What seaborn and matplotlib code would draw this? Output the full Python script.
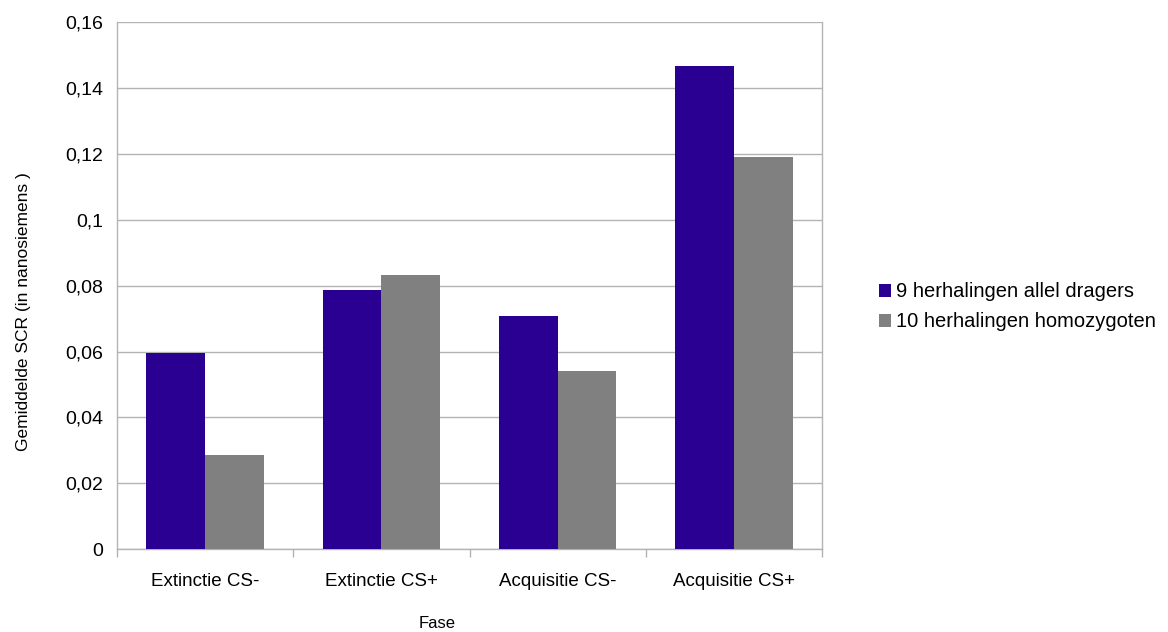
import matplotlib
matplotlib.use("Agg")
import matplotlib.pyplot as plt
import seaborn as sns
import pandas as pd

categories = ["Extinctie CS-", "Extinctie CS+", "Acquisitie CS-", "Acquisitie CS+"]
series_names = ["9 herhalingen allel dragers", "10 herhalingen homozygoten"]
values_allel = [0.0595, 0.0786, 0.0707, 0.1466]
values_homo = [0.0287, 0.0832, 0.0542, 0.1190]
y_ticks = [0, 0.02, 0.04, 0.06, 0.08, 0.10, 0.12, 0.14, 0.16]
y_tick_labels = ["0", "0,02", "0,04", "0,06", "0,08", "0,1", "0,12", "0,14", "0,16"]

df = pd.DataFrame({
    "Fase": categories * 2,
    "SCR": values_allel + values_homo,
    "Groep": [series_names[0]] * 4 + [series_names[1]] * 4,
})

sns.set_theme(style="white")
plt.rcParams["font.family"] = ["Liberation Sans", "DejaVu Sans"]

fig = plt.figure(figsize=(11.68, 6.32), dpi=100)
ax = fig.add_axes([0.100, 0.131, 0.604, 0.834])

palette = {series_names[0]: "#2a0092", series_names[1]: "#808080"}
sns.barplot(data=df, x="Fase", y="SCR", hue="Groep", order=categories,
            hue_order=series_names, palette=palette, width=0.665,
            saturation=1, ax=ax, zorder=3, linewidth=0)

ax.set_ylim(0, 0.16)
ax.set_xlim(-0.5, 3.5)
ax.set_yticks(y_ticks)
ax.set_yticklabels(y_tick_labels, fontsize=14, color="#000000")
ax.yaxis.grid(True, color="#b3b3b3", linewidth=1, zorder=0)
ax.set_axisbelow(True)

ax.set_xticks(range(len(categories)))
ax.set_xticklabels(categories, fontsize=13.5, color="#000000")
ax.set_xticks([-0.5, 0.5, 1.5, 2.5, 3.5], minor=True)
ax.tick_params(axis="x", which="major", length=0, pad=17)
ax.tick_params(axis="x", which="minor", length=6, width=1, color="#b3b3b3", direction="out")
ax.tick_params(axis="y", which="major", length=6, width=1, color="#b3b3b3", direction="out", pad=4)
ax.tick_params(axis="x", which="minor", bottom=True)

for side in ["left", "bottom", "right"]:
    ax.spines[side].set_visible(True)
    ax.spines[side].set_color("#b3b3b3")
    ax.spines[side].set_linewidth(1)
ax.spines["top"].set_visible(False)

ax.set_xlabel("Fase", fontsize=12, color="#000000")
ax.set_ylabel("Gemiddelde SCR (in nanosiemens )", fontsize=12.5, color="#000000")
ax.xaxis.set_label_coords(0.454, -0.127)
ax.yaxis.set_label_coords(-0.122, 0.45)

leg = ax.legend(loc="center left", bbox_to_anchor=(1.055, 0.46), frameon=False,
                fontsize=14.5, handlelength=0.6, handleheight=0.6, handletextpad=0.25,
                labelspacing=0.55)
for t in leg.get_texts():
    t.set_color("#000000")

fig.savefig("out.png", dpi=100)
